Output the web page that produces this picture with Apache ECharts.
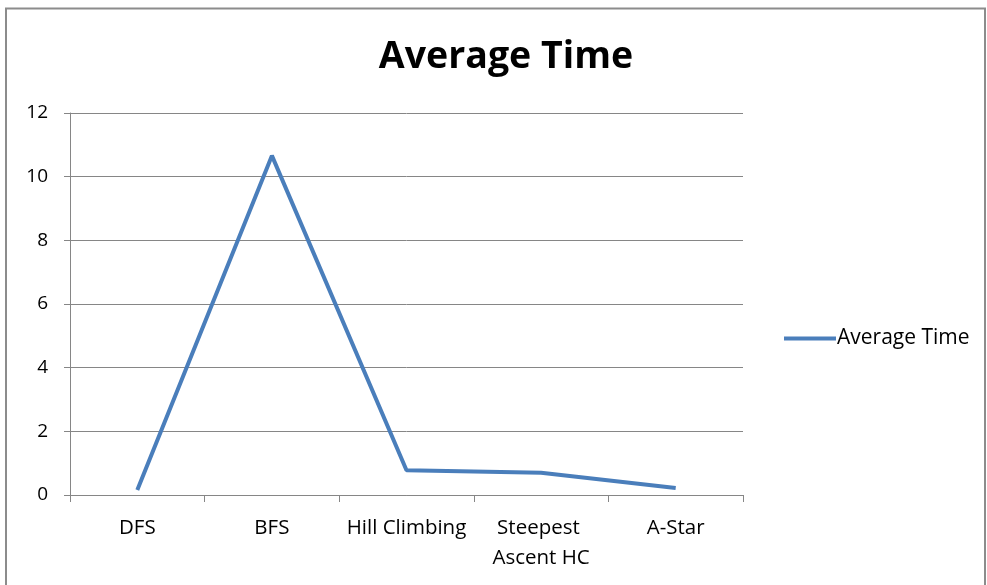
<!DOCTYPE html>
<html>
<head>
<meta charset="utf-8">
<script src="https://cdn.jsdelivr.net/npm/echarts@6/dist/echarts.min.js"></script>
<style>html,body{margin:0;padding:0;background:#fff;}#c{width:987px;height:585px;}</style>
</head>
<body>
<div id="c"></div>
<script>
var categories = ['DFS', 'BFS', 'Hill Climbing', 'Steepest Ascent HC', 'A-Star'];
var averageTime = [0.16, 10.66, 0.78, 0.7, 0.22];
var seriesName = 'Average Time';
var titleText = 'Average Time';

var chart = echarts.init(document.getElementById('c'), null, {renderer: 'canvas'});
var font = '"Open Sans", "Liberation Sans", sans-serif';
chart.setOption({
  animation: false,
  backgroundColor: '#fff',
  graphic: [{
    type: 'rect', shape: {x: 6, y: 8.5, width: 979, height: 620},
    style: {fill: 'none', stroke: '#8c8c8c', lineWidth: 2}, silent: true
  }],
  title: {
    text: titleText, left: 501, top: 33, textAlign: 'center',
    textStyle: {fontFamily: font, fontWeight: 'bold', fontSize: 37.5, color: '#000'}
  },
  legend: {
    data: [seriesName], left: 779, top: 323, itemWidth: 52, itemHeight: 4, itemGap: 4,
    icon: 'rect',
    textStyle: {fontFamily: font, fontSize: 21, color: '#000', padding: [0,0,0,-4]}
  },
  grid: {left: 70, right: 244, top: 113, bottom: 90, containLabel: false},
  xAxis: {
    type: 'category', data: categories, boundaryGap: true,
    axisLine: {lineStyle: {color: '#868686', width: 1}},
    axisTick: {show: true, length: 7, lineStyle: {color: '#868686'}},
    axisLabel: {fontFamily: font, fontSize: 20.5, color: '#000', margin: 18, width: 132, overflow: 'break', lineHeight: 30, interval: 0}
  },
  yAxis: {
    type: 'value', min: 0, max: 12, interval: 2,
    axisLine: {show: true, lineStyle: {color: '#868686', width: 1}},
    axisTick: {show: true, length: 6, lineStyle: {color: '#868686'}},
    splitLine: {lineStyle: {color: '#868686', width: 1}},
    axisLabel: {fontFamily: font, fontSize: 19, color: '#000', margin: 22}
  },
  series: [{
    name: seriesName, type: 'line', data: averageTime,
    showSymbol: false, symbol: 'none',
    lineStyle: {color: '#4a7ebb', width: 4},
    itemStyle: {color: '#4a7ebb'}
  }]
});
</script>
</body>
</html>
